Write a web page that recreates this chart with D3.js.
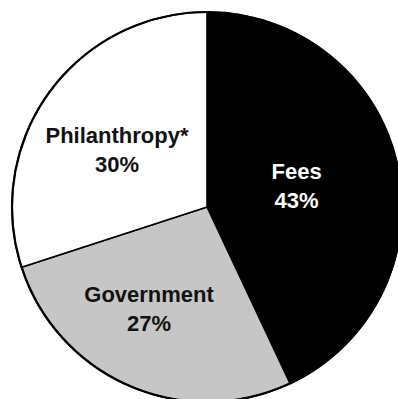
<!DOCTYPE html>
<html>
<head>
<meta charset="utf-8">
<script src="https://cdn.jsdelivr.net/npm/d3@7"></script>
<style>
  html, body { margin: 0; padding: 0; background: #fff; }
  svg { display: block; }
</style>
</head>
<body>
<svg id="chart" width="398" height="399"></svg>
<script>
// Revenue sources, in percent
const categories = ["Fees", "Government", "Philanthropy*"];
const values = [43, 27, 30];
const labels = ["43%", "27%", "30%"];
const fills = ["#000000", "#c6c6c6", "#ffffff"];
const textColors = ["#ffffff", "#111111", "#111111"];

const svg = d3.select("#chart");
const cx = 207, cy = 207, r = 195;

const g = svg.append("g").attr("transform", `translate(${cx},${cy})`);

const pie = d3.pie().sort(null).value(d => d.value);
const arcs = pie(categories.map((c, i) => ({ name: c, value: values[i], label: labels[i], i })));

const arc = d3.arc().innerRadius(0).outerRadius(r);

g.selectAll("path.slice")
  .data(arcs)
  .join("path")
  .attr("class", "slice")
  .attr("d", arc)
  .attr("fill", d => fills[d.data.i])
  .attr("stroke", "#000")
  .attr("stroke-width", 1.6)
  .attr("stroke-linejoin", "round");

// outer rim
g.append("circle").attr("r", r).attr("fill", "none").attr("stroke", "#000").attr("stroke-width", 2.2);

// label placement: angular shift (degrees) from each slice's mid-angle, and distance from centre
const labelShift = [-0.5, 6, -4.1];
const labelRadius = [92, 118, 106];
const lineGap = 29;
const font = "bold 22px 'Liberation Sans', Arial, sans-serif";

const lbl = g.selectAll("g.label")
  .data(arcs)
  .join("g")
  .attr("class", "label")
  .attr("transform", d => {
    const a = (d.startAngle + d.endAngle) / 2 + labelShift[d.data.i] * Math.PI / 180;
    const rr = labelRadius[d.data.i];
    return `translate(${Math.sin(a) * rr},${-Math.cos(a) * rr})`;
  });

lbl.append("text")
  .attr("text-anchor", "middle")
  .attr("y", -lineGap / 2 + 7)
  .attr("fill", d => textColors[d.data.i])
  .style("font", font)
  .text(d => d.data.name);

lbl.append("text")
  .attr("text-anchor", "middle")
  .attr("y", lineGap / 2 + 7)
  .attr("fill", d => textColors[d.data.i])
  .style("font", font)
  .text(d => d.data.label);
</script>
</body>
</html>
